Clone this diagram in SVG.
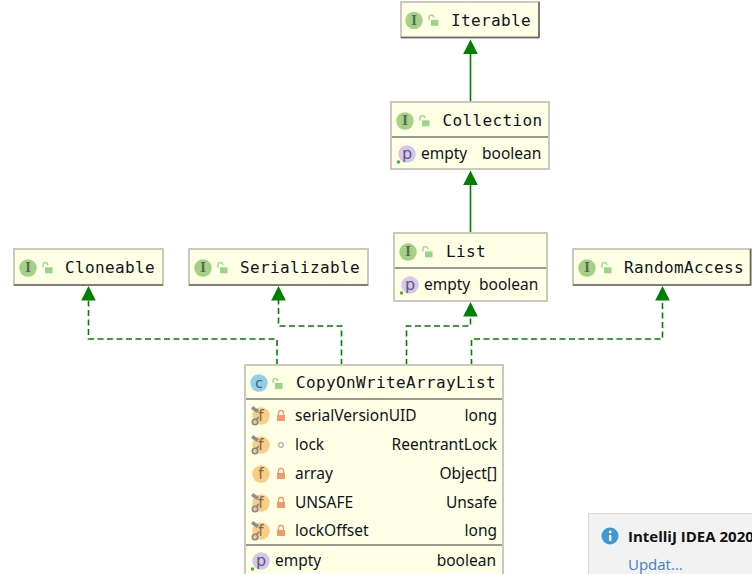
<svg xmlns="http://www.w3.org/2000/svg" width="752" height="574" viewBox="0 0 752 574">
<style>
.box{fill:#ffffe6;stroke:#c9c9c0;stroke-width:2}
.hd{font:16px "DejaVu Sans Mono",monospace;letter-spacing:.37px;fill:#0d1420}
.tx{font:15.500px "Noto Sans",sans-serif;fill:#0d1420}
.e{text-anchor:end}
.div{stroke:#77776f;stroke-width:1.300}
.bot{stroke:#66665f;stroke-width:1.600}
.ib{fill:#a3d286}
.il{font:bold 12px "DejaVu Serif",serif;fill:#5c6652;text-anchor:middle}
.lk{fill:#9ad68a}
.rl{fill:#f4996c}
.fb{fill:#fbcc83}
.fl{font:15px "DejaVu Sans",sans-serif;fill:#7a6a48;text-anchor:middle}
.pb{fill:#d6c5ee}
.pl{font:16px "DejaVu Sans",sans-serif;fill:#5f5a6a;text-anchor:middle}
.c{fill:none;stroke:#008000;stroke-width:1.600}
.d{stroke-dasharray:6 3.500}
.ar{fill:#008000}
</style>
<defs>
<g id="iface"><circle cx="0" cy="0" r="8.700" class="ib"/><text y="4.300" class="il">I</text><path d="M15 -0.500V-3a2.400 2.400 0 0 1 4.800 0" fill="none" stroke="#9ad68a" stroke-width="1.300"/><rect x="17" y="-0.700" width="7.500" height="6" class="lk"/></g>
<g id="prop"><circle cx="0" cy="0" r="8.700" class="pb"/><text y="4.500" class="pl">p</text><circle cx="-8.500" cy="8" r="1.800" fill="#4ca84c"/></g>
<g id="f"><circle cx="0" cy="0" r="8.700" class="fb"/><text y="5" class="fl">f</text></g>
<g id="pin"><path d="M-9 -8.500L-3 -4.500" stroke="#8a8f96" stroke-width="3.500" fill="none"/><path d="M-2 1L-7 6" stroke="#8a8f96" stroke-width="2" fill="none"/><circle cx="-6" cy="6" r="2.700" fill="#fbcc83" stroke="#7d8894" stroke-width="1.600"/></g>
<g id="lock"><path d="M-2.500 -1V-3a2.500 2.500 0 0 1 5 0V-1" fill="none" stroke="#f4996c" stroke-width="1.300"/><rect x="-4" y="-1" width="8" height="6" class="rl"/></g>
</defs>
<rect width="752" height="574" fill="#fff"/>
<g id="connectors">
<path class="c" d="M470.500 102V50M470.500 233V180"/>
<path class="c d" d="M277 365V339H88.500V300"/>
<path class="c d" d="M341.500 365V326H278.500V300"/>
<path class="c d" d="M406.500 365V326H470.500V314"/>
<path class="c d" d="M471.500 365V339H662.500V300"/>
<path class="ar" d="M470.500 39.500L477.800 54H463.200ZM470.500 170.500L477.800 185H463.200ZM88.500 286L95.800 300.500H81.200ZM278.500 286L285.800 300.500H271.200ZM470.500 302L477.800 316.500H463.200ZM662.500 286L669.800 300.500H655.200Z"/>
</g>
<g id="iterable"><rect class="box" x="401" y="2" width="138" height="35.500"/><path class="bot" d="M401 37.500H539M539 2V37.500"/><use href="#iface" x="414" y="20.500"/><text class="hd" x="451" y="26">Iterable</text></g>
<g id="collection"><rect class="box" x="391" y="102" width="158" height="67"/><path class="div" d="M392 137H548"/><use href="#iface" x="405" y="121"/><text class="hd" x="442.500" y="126">Collection</text><use href="#prop" x="407" y="154"/><text class="tx" x="421" y="159">empty</text><text class="tx" x="482" y="159">boolean</text></g>
<g id="list"><rect class="box" x="394" y="233" width="153" height="68"/><path class="div" d="M395 268H546"/><use href="#iface" x="408" y="252"/><text class="hd" x="446" y="257">List</text><use href="#prop" x="410" y="285"/><text class="tx" x="424" y="290">empty</text><text class="tx" x="479" y="290">boolean</text></g>
<g id="cloneable"><rect class="box" x="14" y="249" width="149" height="36"/><path class="bot" d="M14 285H163"/><use href="#iface" x="28" y="268"/><text class="hd" x="65" y="273">Cloneable</text></g>
<g id="serializable"><rect class="box" x="189" y="249" width="179" height="36"/><path class="bot" d="M189 285H368"/><use href="#iface" x="203" y="268"/><text class="hd" x="240" y="273">Serializable</text></g>
<g id="randomaccess"><rect class="box" x="573" y="249" width="178" height="36"/><path class="bot" d="M573 285H751M750.500 249V285"/><use href="#iface" x="587" y="268"/><text class="hd" x="624" y="273">RandomAccess</text></g>
<g id="cowal"><rect class="box" x="245" y="365" width="258" height="212"/><path class="div" d="M246 399H502M246 545H502"/>
<circle cx="259" cy="383" r="8.700" fill="#8fd0e6"/><text x="259" y="387.500" font-family="DejaVu Sans,sans-serif" font-size="14" fill="#4a5c66" text-anchor="middle">c</text>
<path d="M273 383V381a2.400 2.400 0 0 1 4.800 0" fill="none" stroke="#9ad68a" stroke-width="1.300"/><rect x="275" y="383" width="7.500" height="6" class="lk"/>
<text class="hd" x="296" y="388">CopyOnWriteArrayList</text>
<use href="#f" x="261" y="416"/><use href="#pin" x="261" y="416"/><use href="#lock" x="281" y="416"/><text class="tx" x="295" y="421">serialVersionUID</text><text class="tx e" x="497" y="421">long</text>
<use href="#f" x="261" y="445"/><use href="#pin" x="261" y="445"/><circle cx="281" cy="445" r="2.300" fill="none" stroke="#a9b0b8" stroke-width="1.300"/><text class="tx" x="295" y="450">lock</text><text class="tx e" x="497" y="450">ReentrantLock</text>
<use href="#f" x="261" y="474"/><use href="#lock" x="281" y="474"/><text class="tx" x="295" y="479">array</text><text class="tx e" x="497" y="479">Object[]</text>
<use href="#f" x="261" y="503"/><use href="#pin" x="261" y="503"/><use href="#lock" x="281" y="503"/><text class="tx" x="295" y="508">UNSAFE</text><text class="tx e" x="497" y="508">Unsafe</text>
<use href="#f" x="261" y="531"/><use href="#pin" x="261" y="531"/><use href="#lock" x="281" y="531"/><text class="tx" x="295" y="536">lockOffset</text><text class="tx e" x="497" y="536">long</text>
<use href="#prop" x="261" y="561"/><text class="tx" x="275" y="566">empty</text><text class="tx e" x="496" y="566">boolean</text></g>
<g id="notification"><rect x="588.500" y="513.500" width="170" height="70" fill="#f2f2f2" stroke="#d8d8d8"/><circle cx="610" cy="536" r="8.500" fill="#3d9ad6"/><rect x="609" y="535" width="2.400" height="6" fill="#fff"/><circle cx="610.200" cy="532" r="1.400" fill="#fff"/><text x="628" y="542" font-family="Open Sans,sans-serif" font-size="15" font-weight="bold" fill="#111">IntelliJ IDEA 2020</text><text x="628" y="570" font-family="Open Sans,sans-serif" font-size="15" fill="#3f7fc4">Updat...</text></g>
</svg>
